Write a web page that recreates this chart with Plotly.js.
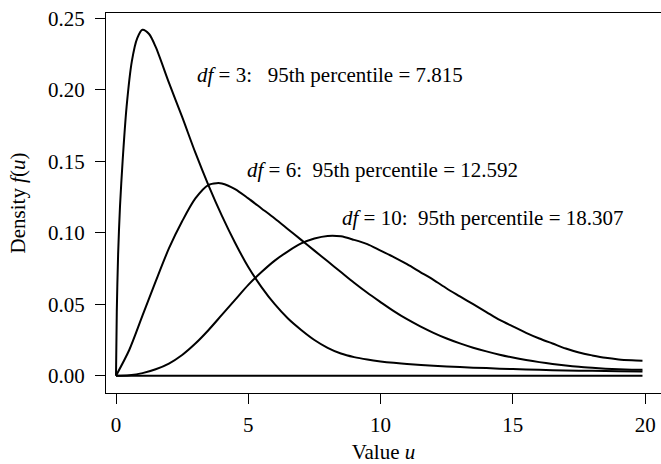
<!DOCTYPE html>
<html>
<head>
<meta charset="utf-8">
<script src="https://cdn.plot.ly/plotly-3.0.1.min.js"></script>
<style>html,body{margin:0;padding:0;background:#fff;}#chart{width:661px;height:464px;}</style>
</head>
<body>
<div id="chart"></div>
<script>
// Values
const xDf3 = [0, 0.03, 0.08, 0.15, 0.25, 0.4, 0.6, 0.8, 1.0, 1.25, 1.5, 2.0, 2.5, 3.0, 3.5, 4.0, 4.5, 5.0, 5.5, 6.0, 6.5, 7.0, 7.5, 8.0, 8.5, 9.0, 9.5, 10, 10.5, 11, 12, 13, 14, 15, 16, 17, 18, 19, 19.9];
const yDf3 = [0, 0.045, 0.085, 0.118, 0.150, 0.188, 0.220, 0.236, 0.242, 0.239, 0.230, 0.205, 0.181, 0.156, 0.133, 0.112, 0.093, 0.076, 0.062, 0.050, 0.040, 0.032, 0.025, 0.0195, 0.0155, 0.0130, 0.0113, 0.0100, 0.0090, 0.0082, 0.0069, 0.0060, 0.0053, 0.0046, 0.0041, 0.0037, 0.0034, 0.0031, 0.0030];

const xDf6 = [0, 0.5, 1.0, 1.5, 2.0, 2.5, 3.0, 3.5, 3.8, 4.0, 4.5, 5.0, 5.5, 6.0, 6.5, 7.0, 7.5, 8.0, 8.5, 9.0, 9.5, 10, 10.5, 11, 11.5, 12, 12.5, 13, 13.5, 14, 14.5, 15, 15.5, 16, 16.5, 17, 17.5, 18, 18.5, 19, 19.5, 19.9];
const yDf6 = [0, 0.018, 0.042, 0.066, 0.089, 0.108, 0.124, 0.1335, 0.1347, 0.1345, 0.1305, 0.124, 0.117, 0.110, 0.1025, 0.095, 0.0875, 0.080, 0.0725, 0.065, 0.058, 0.0515, 0.0452, 0.0395, 0.0345, 0.030, 0.026, 0.0226, 0.0196, 0.017, 0.0147, 0.0127, 0.011, 0.0095, 0.0082, 0.0071, 0.0062, 0.0055, 0.0049, 0.0045, 0.0042, 0.0041];

const xDf10 = [0, 0.5, 1.0, 1.5, 2.0, 2.5, 3.0, 3.5, 4.0, 4.5, 5.0, 5.5, 6.0, 6.5, 7.0, 7.5, 8.0, 8.5, 9.0, 9.5, 10, 10.5, 11, 11.5, 12, 12.5, 13, 13.5, 14, 14.5, 15, 15.5, 16, 16.5, 17, 17.5, 18, 18.5, 19, 19.5, 19.9];
const yDf10 = [0, 0.0004, 0.0018, 0.0045, 0.0085, 0.0145, 0.0225, 0.032, 0.0425, 0.053, 0.0635, 0.0725, 0.0805, 0.087, 0.0925, 0.096, 0.0978, 0.0975, 0.095, 0.092, 0.0875, 0.083, 0.078, 0.0725, 0.067, 0.061, 0.0555, 0.050, 0.0445, 0.039, 0.0345, 0.030, 0.026, 0.0225, 0.019, 0.0162, 0.0142, 0.0125, 0.0114, 0.0108, 0.0105];

const xZero = [0, 19.9];
const yZero = [0, 0];

const xTicks = [0, 5, 10, 15, 20];
const yTicks = [0, 0.05, 0.10, 0.15, 0.20, 0.25];

const labels = [
  {text: "<i>df</i> = 3:\u00A0\u00A0 95th percentile = 7.815", x: 2.99, y: 0.210},
  {text: "<i>df</i> = 6:\u00A0 95th percentile = 12.592", x: 4.88, y: 0.1439},
  {text: "<i>df</i> = 10:\u00A0 95th percentile = 18.307", x: 8.47, y: 0.1106}
];

const FONT = "Liberation Serif";
const FS = 21;
const line = {color: "#000", width: 2, shape: "spline", smoothing: 0.8};
const traces = [
  {x: xZero, y: yZero, mode: "lines", line: {color: "#000", width: 2}},
  {x: xDf3, y: yDf3, mode: "lines", line: line},
  {x: xDf6, y: yDf6, mode: "lines", line: line},
  {x: xDf10, y: yDf10, mode: "lines", line: line}
];

const layout = {
  width: 661, height: 464,
  margin: {l: 106, r: 0, t: 13, b: 71},
  paper_bgcolor: "#fff", plot_bgcolor: "#fff",
  showlegend: false,
  font: {family: FONT, size: FS, color: "#000"},
  xaxis: {
    range: [-0.378, 20.6], tickvals: xTicks, ticktext: xTicks.map(String),
    ticks: "outside", ticklen: 10, tickwidth: 1, tickcolor: "#000",
    showline: true, linecolor: "#000", linewidth: 1, mirror: true,
    showgrid: false, zeroline: false, ticklabelstandoff: 3,
    tickfont: {family: FONT, size: FS},
    title: {text: "Value <i>u</i>", font: {family: FONT, size: FS}, standoff: 10}
  },
  yaxis: {
    range: [-0.0121, 0.2537], tickvals: yTicks, ticktext: yTicks.map(v => v.toFixed(2)),
    ticks: "outside", ticklen: 10, tickwidth: 1, tickcolor: "#000",
    showline: true, linecolor: "#000", linewidth: 1, mirror: false,
    showgrid: false, zeroline: false, ticklabelstandoff: 6,
    tickfont: {family: FONT, size: FS},
    title: {text: "Density <i>f</i>(<i>u</i>)", font: {family: FONT, size: FS}, standoff: 16}
  },
  annotations: labels.map(l => ({
    text: l.text, x: l.x, y: l.y, xref: "x", yref: "y",
    xanchor: "left", yanchor: "middle", showarrow: false,
    font: {family: FONT, size: FS, color: "#000"}
  }))
};

Plotly.newPlot("chart", traces, layout, {displayModeBar: false, staticPlot: true});
</script>
</body>
</html>
